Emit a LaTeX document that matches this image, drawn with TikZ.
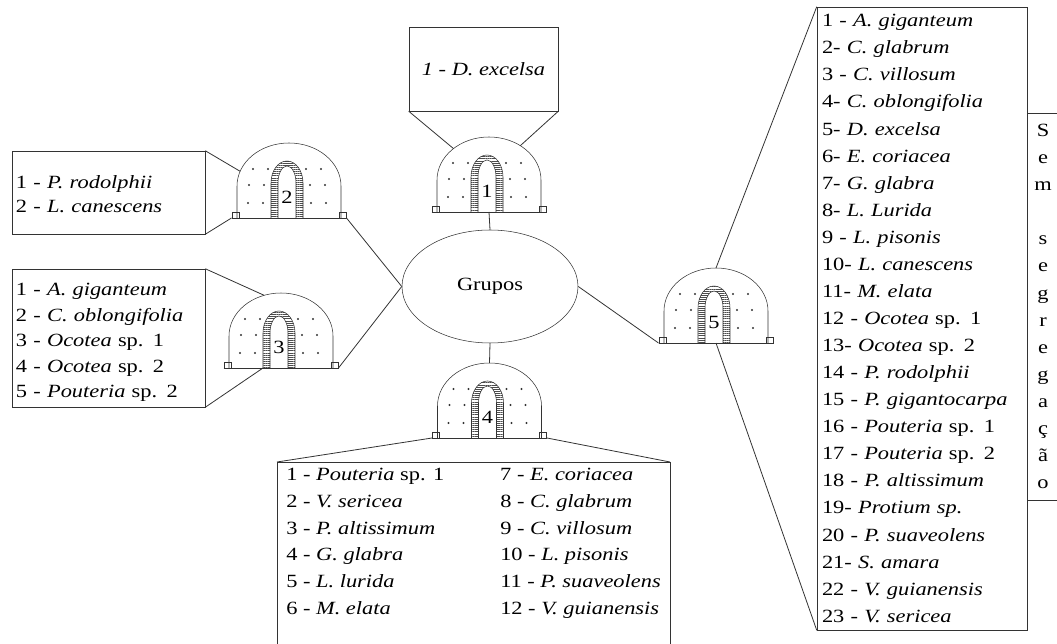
\documentclass[tikz,border=0pt]{standalone}
\usepackage{fontspec}
\setmainfont{Liberation Serif}[FakeStretch=1.2]
\usepackage{xcolor}
\colorlet{cLine}{black!80}
\colorlet{cHatch}{black!70}
\usepackage{tikz}
\usetikzlibrary{shapes.geometric, patterns.meta}
\tikzset{
	x = .75pt,
	y = .75pt,
	line width = .6pt,
	font = \fontsize{14pt}{20pt}\selectfont,
	listbox/.style={
		draw,
		rectangle,
		align=left,
		inner ysep=0pt,
		inner xsep=3pt
	},
	hub/.style={
		draw,
		ellipse,
		inner sep=0pt,
		minimum width=132pt,
		minimum height=84.75pt
	},
	link/.style={
		line width=.6pt
	},
	dome/.pic={
		% base and feet
		\draw (-57.5,0) -- (57.5,0);
		\draw (-57,0) rectangle (-50,6) (50,0) rectangle (57,6);
		% shell
		\draw (-52,0) -- (-52,32) arc[start angle=180, end angle=0, x radius=52, y radius=43] -- (52,0);
		% door
		\path[pattern={Lines[angle=0, distance=1.6pt, line width=.45pt]}, pattern color=cHatch]
			(-18,0) -- (-18,35) arc[start angle=180, end angle=0, x radius=16, y radius=22] -- (14,0)
			-- (7,0) -- (7,35) arc[start angle=0, end angle=180, x radius=9, y radius=17] -- (-11,0) -- cycle;
		\draw (-18,0) -- (-18,35) arc[start angle=180, end angle=0, x radius=16, y radius=22] -- (14,0);
		\draw (-11,0) -- (-11,35) arc[start angle=180, end angle=0, x radius=9, y radius=17] -- (7,0);
		% dots
		\foreach \dx/\dy in {-36/49, -21/49, 17/49, 32/49, -40/33, -25/33, 21/33, 36/33, -41/15, -26/15, 22/15, 37/15}
			\fill (\dx,\dy) circle[radius=1.1];
		\node at (-2,21) {#1};
		% anchors
		\coordinate (-bl) at (-57.5,0);
		\coordinate (-br) at (57.5,0);
		\coordinate (-bc) at (0,0);
		\coordinate (-door) at (-18,0);
		\coordinate (-top) at (0,75);
		\coordinate (-nw) at (-35.5,63.4);
		\coordinate (-ne) at (31.3,66.3);
		\coordinate (-w) at (-48.9,46.7);
		\coordinate (-n) at (-16.9,72.7);
	}
}

\begin{document}
\begin{tikzpicture}[color=cLine, text=black]
\useasboundingbox (0,0) rectangle (1057,643);
\clip (0,0) rectangle (1057,643);

% ---
% groups
% ---
\node[hub] at (490,356.5) (grp) {Grupos};

\pic (dome-1) at (489,431) {dome=1};
\pic (dome-2) at (289,425) {dome=2};
\pic (dome-3) at (281,275) {dome=3};
\pic (dome-4) at (489.5,205) {dome=4};
\pic (dome-5) at (716,300) {dome=5};

\draw[link] (grp.north) -- (dome-1-bc);
\draw[link] (grp.south) -- (dome-4-top);
\draw[link] (grp.west) -- (dome-2-br);
\draw[link] (grp.west) -- (dome-3-br);
\draw[link] (grp.east) -- (dome-5-bl);

% ---
% species lists
% ---
\node[listbox, align=center, minimum width=111.75pt, minimum height=63pt] at (483.5,574) (box-1) {\textit{1 - D. excelsa}};

\node[listbox, text width=138.75pt, minimum height=62.25pt, font=\fontsize{14pt}{18pt}\selectfont] at (108.5,450.5) (box-2) {\rule{0pt}{12pt}1 - \textit{P. rodolphii}\\
2 - \textit{L. canescens}};

\node[listbox, text width=138.75pt, minimum height=103.5pt, font=\fontsize{14pt}{19.1pt}\selectfont] at (108.5,305) (box-3) {\rule{0pt}{16pt}1 - \textit{A. giganteum}\\
2 - \textit{C. oblongifolia}\\
3 - \textit{Ocotea} sp. 1\\
4 - \textit{Ocotea} sp. 2\\
5 - \textit{Pouteria} sp. 2};

\node[listbox, anchor=north west, inner xsep=6.75pt, text depth=130pt] at (277,181) (box-4) {\begin{tabular}[t]{@{}p{160.5pt}@{}l@{}}
1 - \textit{Pouteria} sp. 1 & 7 - \textit{E. coriacea}\\
2 - \textit{V. sericea} & 8 - \textit{C. glabrum}\\
3 - \textit{P. altissimum} & 9 - \textit{C. villosum}\\
4 - \textit{G. glabra} & 10 - \textit{L. pisonis}\\
5 - \textit{L. lurida} & 11 - \textit{P. suaveolens}\\
6 - \textit{M. elata} & 12 - \textit{V. guianensis}
\end{tabular}};

\node[listbox, text width=150pt, inner xsep=3.75pt, minimum height=467.25pt, font=\fontsize{14pt}{20.3pt}\selectfont] at (922,324.5) (box-5) {1 - \textit{A. giganteum}\\
2- \textit{C. glabrum}\\
3 - \textit{C. villosum}\\
4- \textit{C. oblongifolia}\\
5- \textit{D. excelsa}\\
6- \textit{E. coriacea}\\
7- \textit{G. glabra}\\
8- \textit{L. Lurida}\\
9 - \textit{L. pisonis}\\
10- \textit{L. canescens}\\
11- \textit{M. elata}\\
12 - \textit{Ocotea} sp. 1\\
13- \textit{Ocotea} sp. 2\\
14 - \textit{P. rodolphii}\\
15 - \textit{P. gigantocarpa}\\
16 - \textit{Pouteria} sp. 1\\
17 - \textit{Pouteria} sp. 2\\
18 - \textit{P. altissimum}\\
19- \textit{Protium sp.}\\
20 - \textit{P. suaveolens}\\
21- \textit{S. amara}\\
22 - \textit{V. guianensis}\\
23 - \textit{V. sericea}};

\node[listbox, align=center, inner xsep=0pt, minimum width=24pt, minimum height=290.25pt, font=\fontsize{14pt}{20.3pt}\selectfont] at (1043,336.5) (sem) {S\\e\\m\\\strut\\s\\e\\g\\r\\e\\g\\a\\ç\\ã\\o};

\draw[link] (box-1.south west) -- (dome-1-nw);
\draw[link] (box-1.south east) -- (dome-1-ne);
\draw[link] (box-2.north east) -- (dome-2-w);
\draw[link] (box-2.south east) -- (dome-2-bl);
\draw[link] (box-3.north east) -- (dome-3-n);
\draw[link] (box-3.south east) -- (dome-3-door);
\draw[link] (box-4.north west) -- (dome-4-bl);
\draw[link] (box-4.north east) -- (dome-4-br);
\draw[link] (box-5.north west) -- (dome-5-top);
\draw[link] (box-5.south west) -- (dome-5-bc);
\end{tikzpicture}
\end{document}
